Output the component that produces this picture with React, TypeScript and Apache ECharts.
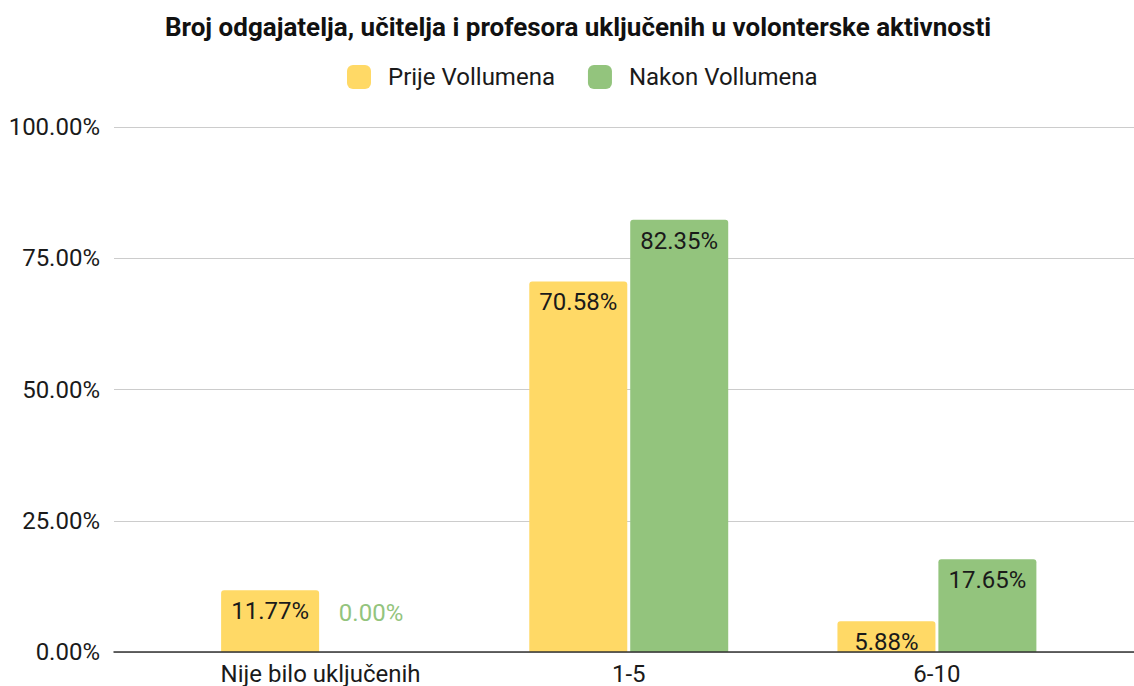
import React, { useEffect, useRef } from "react";
import * as echarts from "echarts";

const title = "Broj odgajatelja, učitelja i profesora uključenih u volonterske aktivnosti";
const categories = ["Nije bilo uključenih", "1-5", "6-10"];
const seriesNames = ["Prije Vollumena", "Nakon Vollumena"];
const prije = [11.77, 70.58, 5.88];
const nakon = [0.0, 82.35, 17.65];
const yTicks = [0, 25, 50, 75, 100];

const YELLOW = "#ffd966";
const GREEN = "#93c47d";
const FONT = "Roboto";
const FS = 24;

export default function App() {
  const ref = useRef<HTMLDivElement>(null);
  useEffect(() => {
    if (!ref.current) return;
    const chart = echarts.init(ref.current, null, { renderer: "svg" });
    const fmt = (v: number) => v.toFixed(2) + "%";
    const mkData = (arr: number[], color: string) =>
      arr.map((v) =>
        v === 0
          ? { value: v, label: { position: "top", distance: 27, color } }
          : v
      );
    const labelBase = {
      show: true,
      position: "insideTop",
      distance: 9,
      color: "#1a1a1a",
      fontFamily: FONT,
      fontSize: FS,
      formatter: (p: any) => fmt(p.value),
    };
    chart.setOption({
      animation: false,
      textStyle: { fontFamily: FONT },
      graphic: [
        {
          type: "text",
          x: 578,
          y: 27,
          style: {
            text: title,
            font: `bold 26px ${FONT}`,
            fill: "#111",
            align: "center",
            verticalAlign: "middle",
          },
        },
      ],
      legend: {
        top: 60,
        left: 342,
        itemWidth: 24,
        itemHeight: 24,
        itemGap: 33,
        icon: "roundRect",
        data: seriesNames,
        textStyle: { fontFamily: FONT, fontSize: FS, color: "#1a1a1a", padding: [0, 0, 0, 12] },
      },
      grid: [
        { left: 114, right: 0, top: 127, bottom: 34, containLabel: false },
        { left: 166.5, right: 43, top: 127, bottom: 34, containLabel: false },
      ],
      xAxis: [
        {
          type: "category",
          gridIndex: 0,
          data: [""],
          axisLine: { show: true, lineStyle: { color: "#333", width: 1.5 } },
          axisTick: { show: false },
          axisLabel: { show: false },
          z: 10,
        },
        {
          type: "category",
          gridIndex: 1,
          data: categories,
          axisLine: { show: false },
          axisTick: { show: false },
          axisLabel: { color: "#1a1a1a", fontFamily: FONT, fontSize: FS, margin: 10 },
        },
      ],
      yAxis: [
        {
          type: "value",
          gridIndex: 0,
          min: yTicks[0],
          max: yTicks[yTicks.length - 1],
          interval: yTicks[1] - yTicks[0],
          axisLine: { show: false },
          axisTick: { show: false },
          axisLabel: {
            color: "#1a1a1a",
            fontFamily: FONT,
            fontSize: FS,
            margin: 14,
            formatter: (v: number) => fmt(v),
          },
          splitLine: { lineStyle: { color: "#cccccc", width: 1 } },
        },
        {
          type: "value",
          gridIndex: 1,
          min: yTicks[0],
          max: yTicks[yTicks.length - 1],
          show: false,
          splitLine: { show: false },
        },
      ],
      series: [
        {
          name: seriesNames[0],
          type: "bar",
          xAxisIndex: 1,
          yAxisIndex: 1,
          barWidth: 98,
          barGap: "3%",
          itemStyle: { color: YELLOW, borderRadius: [3, 3, 0, 0] },
          label: labelBase,
          data: mkData(prije, YELLOW),
        },
        {
          name: seriesNames[1],
          type: "bar",
          xAxisIndex: 1,
          yAxisIndex: 1,
          barWidth: 98,
          barGap: "3%",
          itemStyle: { color: GREEN, borderRadius: [3, 3, 0, 0] },
          label: labelBase,
          data: mkData(nakon, GREEN),
        },
      ],
    });
    return () => chart.dispose();
  }, []);
  return (
    <div
      ref={ref}
      style={{ position: "fixed", left: 0, top: 0, width: 1134, height: 686, background: "#fff" }}
    />
  );
}
